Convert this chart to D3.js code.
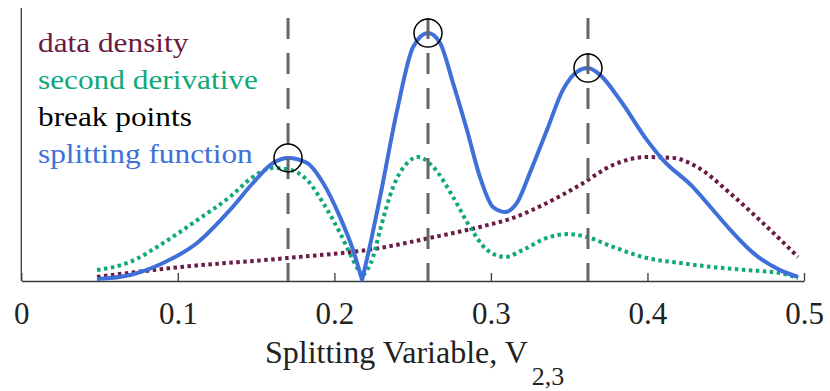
<!DOCTYPE html>
<html>
<head>
<meta charset="utf-8">
<script src="https://cdn.jsdelivr.net/npm/d3@7"></script>
<style>
  body { margin: 0; background: #fff; }
</style>
</head>
<body>
<svg id="grafico" width="830" height="391"></svg>
<script>
// valores (eixo y em unidades arbitrarias, 0..1)
const xTicks = [0, 0.1, 0.2, 0.3, 0.4, 0.5];
const xTickLabels = ["0", "0.1", "0.2", "0.3", "0.4", "0.5"];

const splitX = [0.0484, 0.0695, 0.0906, 0.1123, 0.1333, 0.1480, 0.1608, 0.1704, 0.1826, 0.1928, 0.2036, 0.2119, 0.2177,
  0.2235, 0.2292, 0.2401, 0.2503, 0.2598, 0.2675, 0.2758, 0.2847, 0.2930, 0.3013, 0.3090, 0.3166, 0.3249, 0.3358,
  0.3460, 0.3549, 0.3620, 0.3697, 0.3825, 0.3997, 0.4100, 0.4291, 0.4419, 0.4547, 0.4675, 0.4847, 0.4962];
const splitY = [0.007, 0.022, 0.066, 0.139, 0.260, 0.359, 0.432, 0.451, 0.432, 0.359, 0.234, 0.114, 0.004,
  0.150, 0.308, 0.626, 0.857, 0.908, 0.872, 0.725, 0.553, 0.381, 0.271, 0.253, 0.286, 0.396, 0.553,
  0.700, 0.766, 0.780, 0.755, 0.663, 0.516, 0.443, 0.344, 0.260, 0.176, 0.103, 0.040, 0.015];

const derivX = [0.0484, 0.0695, 0.0906, 0.1123, 0.1333, 0.1480, 0.1608, 0.1717, 0.1826, 0.1928, 0.2036, 0.2119, 0.2177,
  0.2247, 0.2292, 0.2375, 0.2465, 0.2535, 0.2631, 0.2758, 0.2866, 0.2975, 0.3090, 0.3205, 0.3358, 0.3492, 0.3614,
  0.3780, 0.3997, 0.4208, 0.4419, 0.4636, 0.4847, 0.4962];
const derivY = [0.040, 0.070, 0.139, 0.223, 0.308, 0.381, 0.414, 0.407, 0.370, 0.286, 0.176, 0.077, 0.015,
  0.088, 0.187, 0.344, 0.432, 0.454, 0.418, 0.308, 0.198, 0.114, 0.088, 0.114, 0.158, 0.172, 0.161,
  0.125, 0.084, 0.066, 0.051, 0.040, 0.029, 0.011];

const densX = [0.0484, 0.1014, 0.1697, 0.2292, 0.2611, 0.2930, 0.3141, 0.3358, 0.3569, 0.3780, 0.3997, 0.4163,
  0.4316, 0.4527, 0.4738, 0.4962];
const densY = [0.015, 0.051, 0.084, 0.121, 0.158, 0.198, 0.231, 0.286, 0.352, 0.425, 0.454, 0.451,
  0.418, 0.322, 0.212, 0.088];

const breakX = [0.1704, 0.2598, 0.3620];
const breakY = [0.451, 0.908, 0.780];

const legendLabels = ["data density", "second derivative", "break points", "splitting function"];

const cores = {
  densidade: "#6b1a45",
  derivada: "#0fa878",
  quebra: "#000000",
  divisao: "#3f6fd8",
};

const fonte = "'Liberation Serif', monospace";

const svg = d3.select("#grafico");

const x = d3.scaleLinear().domain([0, 0.5]).range([21.3, 804]);
const y = d3.scaleLinear().domain([0, 1]).range([281, 8]);

const toPts = (xs, ys) => xs.map((v, i) => [v, ys[i]]);

// curva suave, mas com bico nos minimos que tocam zero
function caminho(pts) {
  const line = d3.line().x((d) => x(d[0])).y((d) => y(d[1])).curve(d3.curveMonotoneX);
  const cortes = [];
  for (let i = 1; i < pts.length - 1; i++) {
    if (pts[i][1] < pts[i - 1][1] && pts[i][1] < pts[i + 1][1] && pts[i][1] < 0.03) cortes.push(i);
  }
  let d = "";
  let ini = 0;
  cortes.concat([pts.length - 1]).forEach((fim, k) => {
    let parte = line(pts.slice(ini, fim + 1));
    if (k > 0) parte = parte.replace(/^M[-\d.,e]+/, "");
    d += parte;
    ini = fim;
  });
  return d;
}

// eixos
svg.append("line")
  .attr("x1", x(0)).attr("x2", x(0))
  .attr("y1", y(0)).attr("y2", y(1))
  .attr("stroke", "#3a3a3a").attr("stroke-width", 1.3);

const xAxis = d3.axisBottom(x)
  .tickValues(xTicks)
  .tickFormat((d, i) => xTickLabels[i])
  .tickSize(-8)
  .tickSizeOuter(0)
  .tickPadding(21);

const gx = svg.append("g").attr("transform", `translate(0,${y(0)})`).call(xAxis);
gx.attr("font-family", null);
gx.select(".domain").attr("stroke", "#3a3a3a").attr("stroke-width", 1.3);
gx.selectAll(".tick line").attr("stroke", "#3a3a3a").attr("stroke-width", 1.3);
gx.selectAll(".tick text")
  .style("font-family", fonte)
  .attr("font-size", 31)
  .attr("fill", "#222");

// rotulo do eixo x
const rotulo = svg.append("text")
  .attr("x", 265).attr("y", 363)
  .style("font-family", fonte)
  .attr("font-size", 32).attr("fill", "#222");
rotulo.append("tspan").text("Splitting Variable, V");
rotulo.append("tspan").attr("dx", 4).attr("dy", 22).attr("font-size", 26).text("2,3");

// curvas
svg.append("path")
  .attr("d", caminho(toPts(densX, densY)))
  .attr("fill", "none")
  .attr("stroke", cores.densidade)
  .attr("stroke-width", 4)
  .attr("stroke-dasharray", "3.5,3.5");

svg.append("path")
  .attr("d", caminho(toPts(derivX, derivY)))
  .attr("fill", "none")
  .attr("stroke", cores.derivada)
  .attr("stroke-width", 4)
  .attr("stroke-dasharray", "3.5,3.5");

svg.append("path")
  .attr("d", caminho(toPts(splitX, splitY)))
  .attr("fill", "none")
  .attr("stroke", cores.divisao)
  .attr("stroke-width", 4)
  .attr("stroke-linejoin", "round");

// linhas de quebra
svg.selectAll(".quebra")
  .data(breakX)
  .enter()
  .append("line")
  .attr("class", "quebra")
  .attr("x1", (d) => x(d)).attr("x2", (d) => x(d))
  .attr("y1", y(0.963)).attr("y2", y(0))
  .attr("stroke", "#666")
  .attr("stroke-width", 3)
  .attr("stroke-dasharray", "21,14");

svg.selectAll(".pico")
  .data(breakX)
  .enter()
  .append("circle")
  .attr("class", "pico")
  .attr("cx", (d) => x(d))
  .attr("cy", (d, i) => y(breakY[i]))
  .attr("r", 14)
  .attr("fill", "none")
  .attr("stroke", cores.quebra)
  .attr("stroke-width", 1.5);

// legenda (texto um pouco esticado na horizontal, como no original)
const coresLegenda = [cores.densidade, cores.derivada, cores.quebra, cores.divisao];
svg.selectAll(".legend")
  .data(legendLabels)
  .enter()
  .append("text")
  .attr("class", "legend")
  .attr("transform", (d, i) => `translate(38,${52 + i * 37}) scale(1.16,1)`)
  .style("font-family", fonte)
  .attr("font-size", 27)
  .attr("fill", (d, i) => coresLegenda[i])
  .text((d) => d);
</script>
</body>
</html>
